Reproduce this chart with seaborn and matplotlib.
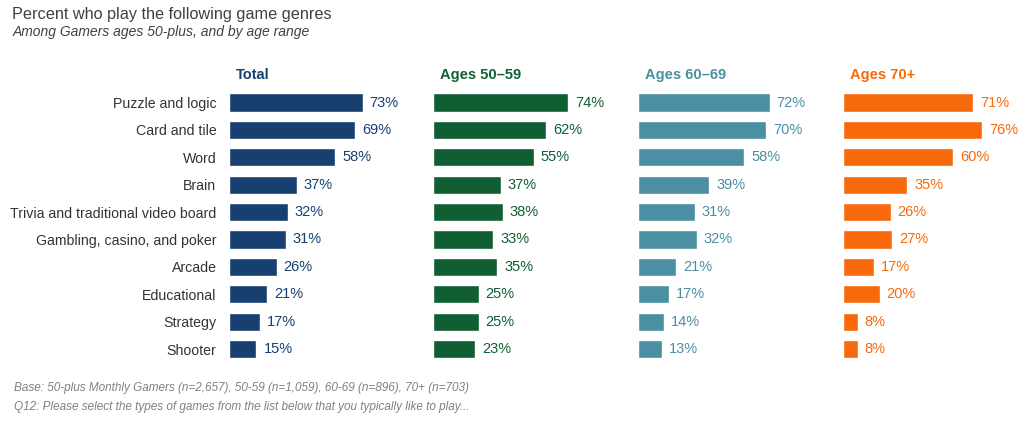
import pandas as pd
import matplotlib
matplotlib.use("Agg")
import matplotlib.pyplot as plt
import seaborn as sns

genres = ["Puzzle and logic", "Card and tile", "Word", "Brain",
          "Trivia and traditional video board", "Gambling, casino, and poker",
          "Arcade", "Educational", "Strategy", "Shooter"]
total = [73, 69, 58, 37, 32, 31, 26, 21, 17, 15]
ages_50_59 = [74, 62, 55, 37, 38, 33, 35, 25, 25, 23]
ages_60_69 = [72, 70, 58, 39, 31, 32, 21, 17, 14, 13]
ages_70_plus = [71, 76, 60, 35, 26, 27, 17, 20, 8, 8]

groups = ["Total", "Ages 50\u201359", "Ages 60\u201369", "Ages 70+"]
colors = ["#173f70", "#0f5f33", "#4a8fa2", "#f7690a"]

df = pd.DataFrame({"genre": genres, groups[0]: total, groups[1]: ages_50_59,
                   groups[2]: ages_60_69, groups[3]: ages_70_plus})

sns.set_theme(style="white")
plt.rcParams["font.family"] = ["Liberation Sans", "DejaVu Sans"]

fig = plt.figure(figsize=(10.24, 4.22), dpi=100)
lefts = [229, 433, 638, 843]
for k, (g, c, lx) in enumerate(zip(groups, colors, lefts)):
    ax = fig.add_axes([lx / 1024, 0.1405, 205 / 1024, 0.649])
    sns.barplot(data=df, x=g, y="genre", ax=ax, color=c, width=0.66,
                saturation=1, orient="h")
    ax.set_xlim(0, 112)
    ax.set_ylim(9.5, -0.5)
    for p, v in zip(ax.patches, df[g]):
        ax.annotate(f"{v}%", (p.get_width(), p.get_y() + p.get_height() / 2),
                    xytext=(5, 0), textcoords="offset points", va="center",
                    ha="left", fontsize=10.5, color=c)
    ax.set_xlabel("")
    ax.set_ylabel("")
    ax.set_xticks([])
    for s in ax.spines.values():
        s.set_visible(False)
    if k == 0:
        ax.tick_params(axis="y", length=0, pad=9, labelsize=10.2, labelcolor="#333333")
    else:
        ax.set_yticks([])
    fig.text((lx + 7) / 1024, 1 - 75 / 422, g, fontsize=10.5, fontweight="bold",
             color=c, ha="left", va="center")

fig.text(0.012, 1 - 15 / 422, "Percent who play the following game genres",
         fontsize=11.7, color="#404040", ha="left", va="center")
fig.text(0.012, 1 - 32 / 422, "Among Gamers ages 50-plus, and by age range",
         fontsize=10, style="italic", color="#404040", ha="left", va="center")
fig.text(0.014, 1 - 388 / 422,
         "Base: 50-plus Monthly Gamers (n=2,657), 50-59 (n=1,059), 60-69 (n=896), 70+ (n=703)",
         fontsize=8.5, style="italic", color="#808080", ha="left", va="center")
fig.text(0.014, 1 - 407 / 422,
         "Q12: Please select the types of games from the list below that you typically like to play...",
         fontsize=8.5, style="italic", color="#808080", ha="left", va="center")

fig.savefig("out.png", dpi=100)
